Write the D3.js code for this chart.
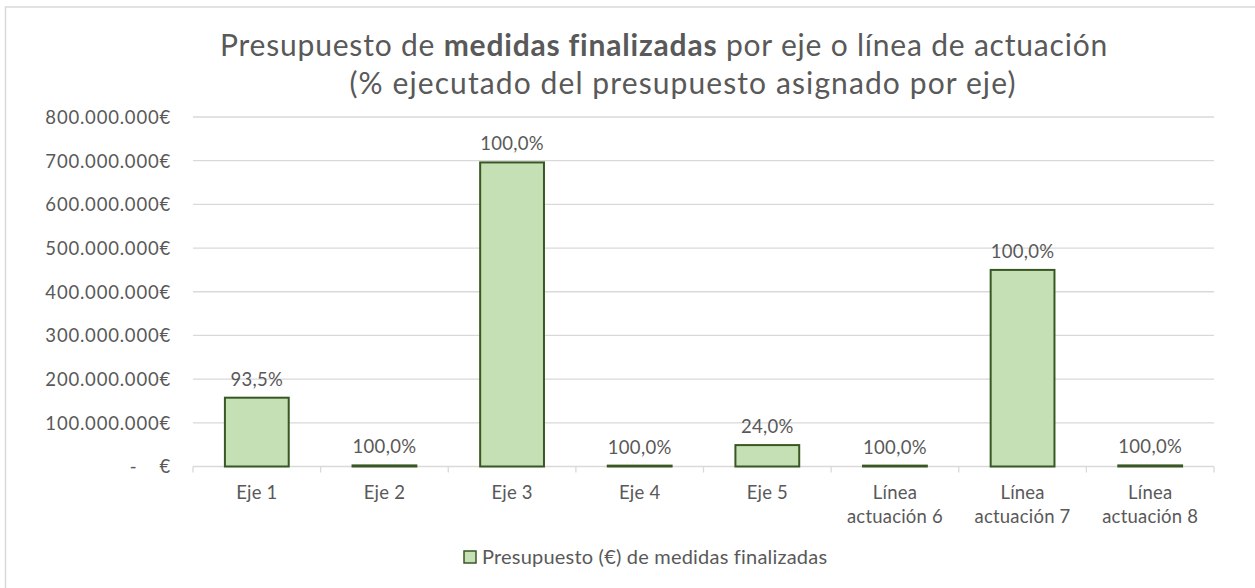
<!DOCTYPE html>
<html>
<head>
<meta charset="utf-8">
<script src="https://cdn.jsdelivr.net/npm/d3@7"></script>
<style>
  body { margin: 0; background: #fff; }
  svg { display: block; font-family: Lato, "Open Sans", sans-serif; }
</style>
</head>
<body>
<svg id="chart" width="1255" height="588"></svg>
<script>
const categories = [["Eje 1"], ["Eje 2"], ["Eje 3"], ["Eje 4"], ["Eje 5"],
  ["Línea", "actuación 6"], ["Línea", "actuación 7"], ["Línea", "actuación 8"]];
const budgetValues = [157500000, 2500000, 696000000, 2000000, 49000000, 2000000, 450000000, 2500000];
const pctLabels = ["93,5%", "100,0%", "100,0%", "100,0%", "24,0%", "100,0%", "100,0%", "100,0%"];
const yTicks = [0, 100000000, 200000000, 300000000, 400000000, 500000000, 600000000, 700000000, 800000000];
const titleLines = ["Presupuesto de ", "medidas finalizadas", " por eje o línea de actuación"];
const subtitle = "(% ejecutado del presupuesto asignado por eje)";
const legendLabel = "Presupuesto (€) de medidas finalizadas";

const svg = d3.select("#chart");
const pLeft = 193, pRight = 1214, pTop = 117, pBottom = 466.5;
const textColor = "#595959", gridColor = "#d9d9d9";

svg.append("rect").attr("x", 5.5).attr("y", 7).attr("width", 1300).attr("height", 700)
  .attr("fill", "none").attr("stroke", "#d9d9d9").attr("stroke-width", 1.5);

const x = d3.scaleBand().domain(d3.range(categories.length)).range([pLeft, pRight])
  .paddingInner(0.5).paddingOuter(0.25);
const y = d3.scaleLinear().domain([0, 800000000]).range([pBottom, pTop]);

const loc = d3.formatLocale({decimal: ",", thousands: ".", grouping: [3], currency: ["", "€"]});
const fmt = loc.format(",");

// gridlines
svg.append("g").selectAll("line").data(yTicks.filter(d => d > 0)).join("line")
  .attr("x1", pLeft).attr("x2", pRight)
  .attr("y1", d => y(d)).attr("y2", d => y(d))
  .attr("stroke", gridColor).attr("stroke-width", 1.3);

// y axis labels
const yAxis = d3.axisLeft(y).tickValues(yTicks)
  .tickFormat(d => d === 0 ? "-    €" : fmt(d) + "€").tickSize(0).tickPadding(22);
const yg = svg.append("g").attr("transform", `translate(${pLeft},0)`).call(yAxis);
yg.select(".domain").remove();
yg.attr("font-family", null).attr("font-size", null);
yg.selectAll("text").attr("fill", textColor).style("font-size", "18.5px")
  .style("letter-spacing", "0.8px").style("white-space", "pre").attr("dy", "0.35em");

// x axis line + ticks
const xg = svg.append("g");
xg.append("line").attr("x1", pLeft).attr("x2", pRight).attr("y1", pBottom).attr("y2", pBottom)
  .attr("stroke", gridColor).attr("stroke-width", 1.3);
const boundaries = d3.range(categories.length + 1).map(i => pLeft + i * x.step());
xg.selectAll("line.tk").data(boundaries).join("line").attr("class", "tk")
  .attr("x1", d => d).attr("x2", d => d).attr("y1", pBottom).attr("y2", pBottom + 6)
  .attr("stroke", gridColor).attr("stroke-width", 1.3);

// x labels
const xl = svg.append("g").selectAll("text").data(categories).join("text")
  .attr("text-anchor", "middle").attr("fill", textColor).style("font-size", "18.5px")
  .style("letter-spacing", "0.2px")
  .attr("x", (d, i) => x(i) + x.bandwidth() / 2).attr("y", 499);
xl.selectAll("tspan").data(d => d).join("tspan")
  .attr("x", function() { return this.parentNode.getAttribute("x"); })
  .attr("dy", (d, i) => i === 0 ? 0 : 24).text(d => d);

// bars
svg.append("g").selectAll("rect").data(budgetValues).join("rect")
  .attr("x", (d, i) => x(i)).attr("width", x.bandwidth())
  .attr("y", d => y(d)).attr("height", d => pBottom - y(d))
  .attr("fill", "#c5e0b4").attr("stroke", "#385723").attr("stroke-width", 2);

// data labels
svg.append("g").selectAll("text").data(budgetValues).join("text")
  .attr("x", (d, i) => x(i) + x.bandwidth() / 2).attr("y", d => y(d) - 12)
  .attr("text-anchor", "middle").attr("fill", textColor).style("font-size", "18.5px")
  .style("letter-spacing", "0.3px")
  .text((d, i) => pctLabels[i]);

// title
const t = svg.append("text").attr("x", 664).attr("y", 56).attr("text-anchor", "middle")
  .attr("fill", textColor).style("font-size", "30px").style("letter-spacing", "0.8px");
titleLines.forEach((s, i) => t.append("tspan").text(s).style("font-weight", i === 1 ? "bold" : "normal")
  .style("white-space", "pre"));
svg.append("text").attr("x", 683).attr("y", 94).attr("text-anchor", "middle")
  .attr("fill", textColor).style("font-size", "30px").style("letter-spacing", "1.1px").text(subtitle);

// legend
svg.append("rect").attr("x", 464).attr("y", 551).attr("width", 12).attr("height", 12)
  .attr("fill", "#c5e0b4").attr("stroke", "#385723").attr("stroke-width", 1.5);
svg.append("text").attr("x", 482).attr("y", 564).attr("fill", textColor)
  .style("font-size", "20px").style("letter-spacing", "0.2px").text(legendLabel);
</script>
</body>
</html>
